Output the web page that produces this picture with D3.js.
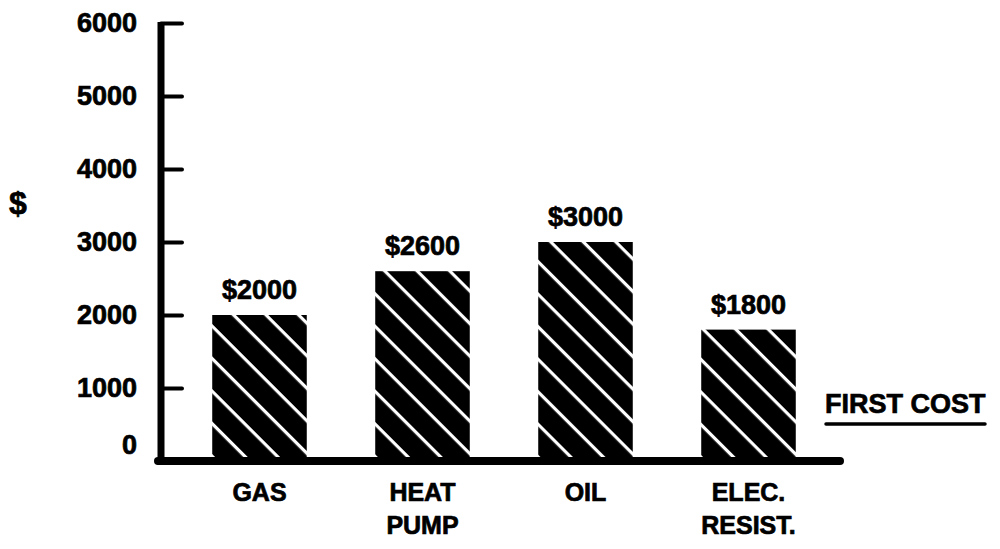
<!DOCTYPE html>
<html>
<head>
<meta charset="utf-8">
<script src="https://cdn.jsdelivr.net/npm/d3@7"></script>
<style>
  html, body { margin: 0; padding: 0; background: #fff; }
  svg { display: block; }
  text { font-family: "Liberation Sans", Arial, sans-serif; font-weight: bold; fill: #000;
         stroke: #000; stroke-width: 0.7px; }
</style>
</head>
<body>
<svg id="chart" width="1000" height="549"></svg>
<script>
// First-cost comparison of home heating systems
const categories = [["GAS"], ["HEAT", "PUMP"], ["OIL"], ["ELEC.", "RESIST."]];
const costs = [2000, 2600, 3000, 1800];
const valueLabels = ["$2000", "$2600", "$3000", "$1800"];
const yTicks = [0, 1000, 2000, 3000, 4000, 5000, 6000];

const svg = d3.select("#chart");

const x = d3.scaleBand()
  .domain(d3.range(categories.length))
  .range([178, 830])
  .paddingInner(0.42)
  .paddingOuter(0.21);

const y = d3.scaleLinear()
  .domain([0, 6000])
  .range([461, 23]);

// diagonal white stripes on black
const defs = svg.append("defs");
const pat = defs.append("pattern")
  .attr("id", "hatch")
  .attr("patternUnits", "userSpaceOnUse")
  .attr("width", 23)
  .attr("height", 23)
  .attr("patternTransform", "rotate(45)");
pat.append("rect").attr("width", 23).attr("height", 23).attr("fill", "#000");
pat.append("rect").attr("x", 0).attr("y", 10).attr("width", 23).attr("height", 3.2).attr("fill", "#fff");

// bars
svg.append("g").selectAll("rect")
  .data(costs)
  .join("rect")
  .attr("x", (d, i) => x(i))
  .attr("y", d => y(d))
  .attr("width", x.bandwidth())
  .attr("height", d => y(0) - y(d))
  .attr("fill", "url(#hatch)");

// value labels above bars
svg.append("g").selectAll("text")
  .data(costs)
  .join("text")
  .attr("x", (d, i) => x(i) + x.bandwidth() / 2)
  .attr("y", d => y(d) - 16)
  .attr("text-anchor", "middle")
  .attr("font-size", 27)
  .text((d, i) => valueLabels[i]);

// y axis: ticks pointing into the plot, labels to the left
const yAxis = d3.axisLeft(y)
  .tickValues(yTicks)
  .tickSizeInner(-21)
  .tickSizeOuter(0)
  .tickPadding(24)
  .tickFormat(d3.format("d"));

const gy = svg.append("g")
  .attr("transform", "translate(161,0)")
  .call(yAxis);
gy.select(".domain").remove();
gy.selectAll(".tick line")
  .attr("stroke", "#000")
  .attr("stroke-width", 4)
  .attr("stroke-linecap", "round")
  .filter(d => d === 0).remove();
gy.selectAll(".tick text")
  .attr("font-size", 27)
  .attr("font-family", "Liberation Sans, Arial, sans-serif")
  .attr("font-weight", "bold")
  .attr("fill", "#000");
gy.selectAll(".tick text").filter(d => d === 0).attr("dy", "-0.28em");

// axis lines
svg.append("line")
  .attr("x1", 161).attr("x2", 161)
  .attr("y1", y(6000) - 1).attr("y2", y(0) + 4)
  .attr("stroke", "#000").attr("stroke-width", 7);
svg.append("line")
  .attr("x1", 158).attr("x2", 840)
  .attr("y1", y(0)).attr("y2", y(0))
  .attr("stroke", "#000").attr("stroke-width", 8)
  .attr("stroke-linecap", "round");

// category labels
const cat = svg.append("g").selectAll("text")
  .data(categories)
  .join("text")
  .attr("x", (d, i) => x(i) + x.bandwidth() / 2)
  .attr("y", 501)
  .attr("text-anchor", "middle")
  .attr("font-size", 25);
cat.selectAll("tspan")
  .data(d => d)
  .join("tspan")
  .attr("x", function () { return this.parentNode.getAttribute("x"); })
  .attr("dy", (d, j) => j === 0 ? 0 : 33)
  .text(d => d);

// y axis unit
svg.append("text")
  .attr("x", 18).attr("y", 214)
  .attr("text-anchor", "middle")
  .attr("font-size", 32)
  .text("$");

// series title, underlined
svg.append("text")
  .attr("x", 825).attr("y", 413)
  .attr("font-size", 27)
  .text("FIRST COST");
svg.append("line")
  .attr("x1", 826).attr("x2", 985)
  .attr("y1", 424).attr("y2", 424)
  .attr("stroke", "#000").attr("stroke-width", 3.5)
  .attr("stroke-linecap", "round");
</script>
</body>
</html>
